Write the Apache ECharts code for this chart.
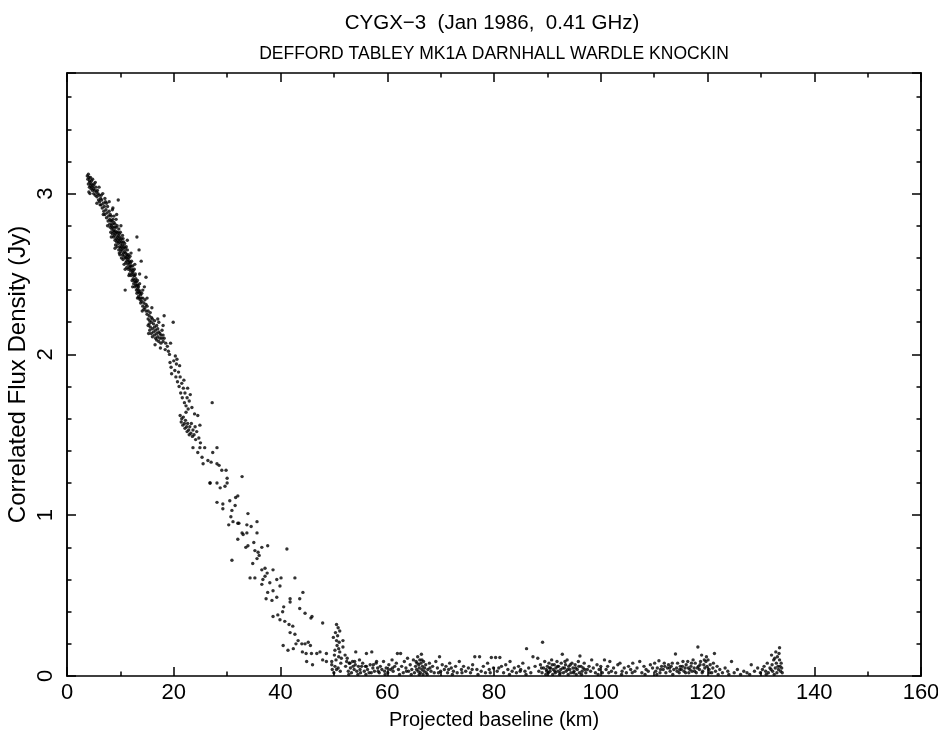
<!DOCTYPE html>
<html>
<head>
<meta charset="utf-8">
<script src="https://cdn.jsdelivr.net/npm/echarts@6/dist/echarts.min.js"></script>
<style>
html, body { margin: 0; padding: 0; background: #fff; }
#chart { width: 938px; height: 736px; }
</style>
</head>
<body>
<div id="chart"></div>
<script>
// [baseline km, flux Jy]
const headBand = [
  [3.8,3.11],[3.9,3.09],[4.0,3.12],[4.0,3.06],[4.1,3.10],[4.1,3.01],[4.2,3.08],[4.2,3.04],[4.3,3.07],[4.4,3.05],
  [4.4,3.10],[4.5,3.03],[4.6,3.06],[4.6,3.08],[4.7,3.04],[4.8,3.02],[4.9,3.05],[5.0,3.00],[5.0,3.03],[5.1,3.06],
  [5.2,3.02],[5.3,2.99],[5.4,3.04],[5.5,3.01],[5.6,2.98],[5.7,3.02],[5.8,3.00],[5.9,2.96],[6.0,2.99],[6.1,2.95],
  [6.2,2.93],[6.3,2.97],[6.4,2.93],[6.5,2.96],[6.6,2.91],[6.7,3.00],[6.8,2.94],[6.9,2.89],[7.0,2.92],[7.1,2.87],
  [7.2,2.95],[7.3,2.90],[7.4,2.85],[7.4,2.94],[7.5,2.88],[7.6,2.92],[7.7,2.83],[7.8,2.86],[7.9,2.89],[8.0,2.81],
  [8.0,2.84],[8.1,2.87],[8.1,2.79],[8.2,2.83],[8.2,2.76],[8.3,2.86],[8.3,2.80],[8.4,2.78],[8.4,2.83],[8.5,2.90],
  [8.5,2.81],[8.5,2.75],[8.6,2.79],[8.6,2.84],[8.7,2.77],[8.7,2.73],[8.8,2.82],[8.8,2.76],[8.8,2.86],[8.9,2.74],
  [8.9,2.79],[9.0,2.71],[9.0,2.77],[9.0,2.81],[9.1,2.75],[9.1,2.68],[9.2,2.79],[9.2,2.72],[9.2,2.84],[9.3,2.70],
  [9.3,2.76],[9.4,2.73],[9.4,2.67],[9.4,2.80],[9.5,2.71],[9.5,2.76],[9.6,2.96],[9.6,2.69],[9.6,2.74],[9.7,2.65],
  [9.7,2.72],[9.7,2.78],[9.8,2.70],[9.8,2.75],[9.9,2.67],[9.9,2.62],[9.9,2.73],[10.0,2.71],[10.0,2.66],[10.0,2.76],
  [10.1,2.64],[10.1,2.69],[10.2,2.72],[10.2,2.60],[10.2,2.67],[10.3,2.65],[10.3,2.70],[10.4,2.62],[10.4,2.68],[10.4,2.74],
  [10.5,2.66],[10.5,2.59],[10.6,2.70],[10.6,2.63],[10.7,2.61],[10.7,2.67],[10.7,2.56],[10.8,2.64],[10.8,2.69],[10.9,2.40],
  [10.9,2.60],[10.9,2.66],[11.0,2.63],[11.0,2.57],[11.1,2.67],[11.1,2.60],[11.2,2.58],[11.2,2.62],[11.2,2.54],[11.3,2.61],
  [11.3,2.65],[11.4,2.56],[11.4,2.59],[11.5,2.62],[11.5,2.53],[11.6,2.57],[11.6,2.60],[11.7,2.54],[11.7,2.50],[11.7,2.58],
  [11.8,2.55],[11.8,2.61],[11.9,2.52],[11.9,2.57],[12.0,2.55],[12.0,2.49]
];

// looser points either side of the main band
const headScatter = [
  [4.3,3.00],[4.8,3.09],[5.3,3.07],[5.6,2.94],[6.0,3.04],[6.4,2.99],[6.8,2.87],[7.1,2.97],[7.6,2.80],[7.9,2.95],
  [8.3,2.73],[8.6,2.91],[9.0,2.66],[9.3,2.87],[9.8,2.63],[10.1,2.80],[10.5,2.72],[10.9,2.53],[11.3,2.71],[11.6,2.49],
  [12.0,2.63],[12.3,2.42],[12.7,2.56],[13.2,2.35],[13.6,2.50],[14.1,2.27],[14.5,2.42],[15.0,2.35],[15.3,2.13],[15.9,2.29],
  [16.5,2.06],[17.0,2.22],[17.5,2.04],[18.0,2.18],[18.4,2.03],[19.4,2.07],[20.6,1.97],[21.1,1.93],[22.6,1.79],[23.1,1.75]
];

const upperBand = [
  [12.1,2.53],[12.1,2.58],[12.2,2.50],[12.2,2.46],[12.3,2.55],[12.3,2.51],[12.4,2.47],[12.4,2.52],[12.5,2.49],[12.5,2.44],
  [12.6,2.53],[12.6,2.46],[12.7,2.42],[12.7,2.49],[12.8,2.45],[12.8,2.50],[12.9,2.43],[12.9,2.47],[13.0,2.40],[13.0,2.45],
  [13.1,2.73],[13.1,2.43],[13.1,2.38],[13.2,2.46],[13.2,2.41],[13.3,2.39],[13.3,2.43],[13.4,2.36],[13.4,2.42],[13.5,2.65],
  [13.5,2.40],[13.5,2.35],[13.6,2.38],[13.6,2.44],[13.7,2.34],[13.7,2.39],[13.8,2.37],[13.8,2.32],[13.9,2.58],[13.9,2.35],
  [14.0,2.33],[14.0,2.38],[14.2,2.30],[14.2,2.35],[14.2,2.40],[14.4,2.32],[14.4,2.28],[14.6,2.34],[14.6,2.29],[14.8,2.48],
  [14.8,2.27],[14.8,2.31],[15.0,2.25],[15.0,2.30],[15.2,2.22],[15.2,2.27],[15.2,2.18],[15.4,2.24],[15.4,2.19],[15.5,2.15],
  [15.5,2.21],[15.6,2.26],[15.6,2.17],[15.8,2.20],[15.8,2.13],[15.8,2.23],[16.0,2.16],[16.0,2.22],[16.0,2.11],[16.2,2.19],
  [16.2,2.14],[16.4,2.12],[16.4,2.17],[16.4,2.21],[16.6,2.15],[16.6,2.10],[16.8,2.18],[16.8,2.13],[16.8,2.09],[17.0,2.11],
  [17.0,2.16],[17.2,2.14],[17.2,2.08],[17.2,2.20],[17.4,2.10],[17.4,2.13],[17.6,2.07],[17.6,2.12],[17.8,2.10],[17.8,2.15],
  [18.0,2.08],[18.0,2.12],[18.2,2.24],[18.2,2.10],[18.5,2.07]
];

const kneeUpper = [
  [18.8,2.05],[19.0,2.02],[19.2,2.00],[19.3,1.95],[19.5,1.92],[19.6,1.88],[19.9,2.20],[20.0,1.96],[20.2,1.90],[20.3,1.99],
  [20.4,1.86],[20.5,1.94],[20.7,1.83],[20.9,1.89],[21.0,1.80],[21.2,1.86],[21.3,1.76],[21.5,1.82],[21.6,1.73],[21.8,1.79],
  [21.9,1.84],[22.0,1.70],[22.1,1.76],[22.3,1.68],[22.5,1.73],[22.7,1.66],[22.9,1.71],[23.4,1.67],
  [21.2,1.62],[21.4,1.58],[21.5,1.60],[21.7,1.56],[21.8,1.61],[22.0,1.57],[22.1,1.54],[22.2,1.59],[22.3,1.64],[22.4,1.55],
  [22.5,1.52],[22.6,1.57],[22.8,1.53],[22.9,1.50],[23.0,1.55],[23.2,1.51],[23.3,1.57],[23.5,1.49],[23.6,1.53],[23.8,1.50],
  [23.9,1.63],[24.0,1.55],[24.1,1.47],[24.3,1.52],[24.5,1.62],[24.7,1.48],[24.9,1.56],[25.0,1.45],
  [23.6,1.42],[24.9,1.42],[25.8,1.42],[28.1,1.42],[24.5,1.39],[27.3,1.39],[25.3,1.36],[26.4,1.34],[27.0,1.33],[25.5,1.32],
  [28.1,1.32],[28.5,1.31],[29.0,1.28],[29.8,1.28],[26.8,1.20],[30.0,1.23],[32.8,1.24],[27.2,1.70]
];

const slopeMid = [
  [26.8,1.20],[28.1,1.20],[28.7,1.17],[29.6,1.18],[30.0,1.20],[28.1,1.08],[29.2,1.07],[30.5,1.09],[31.6,1.11],[32.0,1.12],
  [31.5,1.06],[29.2,1.04],[30.9,1.03],[30.7,0.99],[33.9,1.01],[31.1,0.96],[32.0,0.95],[30.3,0.94],[32.2,0.95],[33.7,0.94],
  [35.6,0.96],[34.5,0.93],[35.6,0.89],[33.7,0.89],[32.8,0.89],[32.0,0.85],[30.9,0.72],[33.0,0.88],[33.9,0.81],[33.5,0.80],
  [35.0,0.83],[35.2,0.78],[35.8,0.77],[36.5,0.80],[37.6,0.81],[36.0,0.75],[35.6,0.73],[34.8,0.70],[36.5,0.66],[37.1,0.67],
  [38.6,0.66],[37.5,0.64],[37.1,0.62],[41.2,0.79],[34.3,0.61],[35.2,0.61],[36.5,0.57],[38.0,0.58],[39.3,0.60],[40.1,0.61],
  [36.7,0.60],[37.6,0.52],[38.6,0.53],[39.9,0.56],[42.7,0.61]
];

const slopeLow = [
  [37.3,0.48],[38.4,0.47],[39.3,0.49],[41.8,0.48],[40.6,0.43],[41.8,0.46],[44.2,0.52],[43.6,0.48],[40.4,0.40],[38.6,0.37],
  [39.5,0.38],[39.9,0.35],[40.8,0.34],[41.6,0.32],[42.3,0.31],[41.8,0.27],[42.7,0.26],[43.6,0.42],[44.6,0.39],[45.9,0.37],
  [45.7,0.36]
];

const kneeFoot = [
  [47.9,0.33],[50.5,0.32],[50.8,0.30],[51.1,0.28],[49.9,0.24],[50.5,0.22],[51.7,0.22],[51.7,0.18],[50.2,0.16],[51.1,0.15],
  [52.1,0.13],[40.5,0.19],[41.4,0.16],[42.4,0.17],[42.9,0.20],[43.3,0.22],[44.0,0.20],[44.6,0.20],[45.2,0.21],[45.6,0.19],
  [44.1,0.15],[44.8,0.14],[45.8,0.14],[46.8,0.14],[47.4,0.15],[48.6,0.14],[44.9,0.09],[46.0,0.07],[47.9,0.10],[48.6,0.09],
  [49.6,0.09],[49.6,0.07],[50.2,0.06],[50.5,0.04],[50.0,0.02],[52.4,0.09],[53.0,0.08],[53.9,0.09],[54.1,0.15],[55.2,0.06],
  [56.1,0.06],[57.1,0.15],[57.4,0.07],[58.0,0.09],[58.3,0.03],[53.6,0.06],[54.9,0.04],
  [50.3,0.27],[50.6,0.19],[50.9,0.12],[51.0,0.21],[50.4,0.10],[50.7,0.25],[51.3,0.08],[50.1,0.13],[50.8,0.05],[51.4,0.11],
  [49.7,0.04],[50.9,0.17],[51.2,0.03]
];

const floorWest = [
  [52.2,0.06],[52.5,0.11],[52.7,0.03],[52.9,0.08],[53.1,0.05],[53.3,0.02],[53.5,0.09],[53.8,0.04],[54.0,0.07],[54.3,0.03],
  [54.6,0.06],[54.8,0.10],[55.0,0.02],[55.4,0.08],[55.7,0.03],[55.9,0.06],[56.1,0.14],[56.3,0.04],[56.6,0.02],[56.8,0.07],
  [57.3,0.05],[57.6,0.03],[57.9,0.08],[58.2,0.05],[58.5,0.02],[58.7,0.06],[59.0,0.04],[59.3,0.09],[59.5,0.03],[59.8,0.05],
  [60.1,0.02],[60.3,0.07],[60.6,0.04],[60.9,0.10],[61.1,0.03],[61.4,0.06],[61.7,0.08],[61.9,0.14],[62.1,0.04],[62.5,0.14],
  [62.7,0.06],[63.0,0.02],[63.2,0.09],[63.5,0.05],[63.8,0.11],[64.0,0.03],[64.3,0.07],[64.6,0.04],[64.9,0.10],[65.1,0.02],
  [65.3,0.06],[65.4,0.09],[65.5,0.04],[65.7,0.12],[65.8,0.03],[65.9,0.07],[66.0,0.05],[66.1,0.10],[66.2,0.02],[66.3,0.08],
  [66.4,0.135],[66.5,0.04],[66.6,0.06],[66.7,0.01],[66.8,0.09],[66.9,0.03],[67.0,0.05],[67.2,0.07],[67.3,0.02],[67.6,0.04],
  [67.9,0.08],[68.2,0.03],[68.5,0.06],[68.8,0.02],[69.1,0.09],[69.4,0.05],[69.8,0.12],[70.0,0.03],[70.3,0.07],[70.7,0.04],
  [71.0,0.06],[71.3,0.02],[71.7,0.08],[72.0,0.05],[72.4,0.03],[72.8,0.06],[73.1,0.02],[73.5,0.09],[73.9,0.04],[74.3,0.06],
  [74.7,0.03],[75.2,0.05],[75.6,0.02],[76.0,0.07],[76.4,0.12],[76.8,0.04],[77.3,0.12],[77.6,0.03],[78.0,0.06],[78.4,0.02],
  [78.8,0.08],[79.1,0.04],[79.5,0.115],[79.9,0.05],[80.3,0.115],[80.6,0.03],[81.1,0.115],[81.4,0.06],[81.8,0.02],[82.2,0.07],
  [82.6,0.04],[83.0,0.09],[83.4,0.03],[83.8,0.05],[84.2,0.02],[84.6,0.06],[85.0,0.04],[85.4,0.08],[85.8,0.03],[86.1,0.17],
  [86.5,0.05],[86.9,0.02],[87.3,0.12],[87.7,0.06],[88.2,0.11]
];

const floorEast = [
  [88.4,0.03],[88.7,0.07],[89.0,0.02],[89.1,0.21],[89.3,0.05],[89.5,0.09],[89.7,0.01],[89.8,0.04],[90.0,0.06],[90.2,0.02],
  [90.3,0.08],[90.5,0.03],[90.6,0.05],[90.8,0.10],[91.0,0.01],[91.1,0.04],[91.3,0.07],[91.5,0.02],[91.6,0.05],[91.8,0.09],
  [92.0,0.03],[92.1,0.06],[92.3,0.01],[92.5,0.04],[92.6,0.08],[92.8,0.135],[93.0,0.02],[93.2,0.05],[93.4,0.07],[93.5,0.03],
  [93.7,0.10],[93.9,0.01],[94.0,0.06],[94.2,0.04],[94.4,0.02],[94.6,0.08],[94.8,0.05],[95.0,0.03],[95.2,0.07],[95.4,0.01],
  [95.6,0.04],[95.8,0.09],[96.0,0.02],[96.1,0.124],[96.3,0.06],[96.5,0.03],[96.7,0.05],[96.9,0.08],[97.2,0.02],[97.5,0.04],
  [97.8,0.06],[98.1,0.03],[98.3,0.10],[98.6,0.05],[99.0,0.02],[99.3,0.07],[99.7,0.04],[100.0,0.06],[100.3,0.02],[100.7,0.10],
  [101.0,0.04],[101.3,0.06],[101.7,0.09],[102.0,0.03],[102.4,0.05],[102.8,0.02],[103.2,0.07],[103.6,0.08],[104.0,0.03],[104.4,0.05],
  [104.8,0.02],[105.2,0.06],[105.6,0.04],[106.0,0.08],[106.4,0.03],[106.8,0.05],[107.3,0.09],[107.7,0.02],[108.1,0.06],[108.5,0.04],
  [108.9,0.03],[109.3,0.07],[109.7,0.05],[110.1,0.08],[110.3,0.03],[110.6,0.05],[110.9,0.095],[111.1,0.02],[111.4,0.06],[111.7,0.04],
  [111.9,0.08],[112.2,0.02],[112.5,0.05],[112.7,0.07],[113.0,0.03],[113.2,0.06],[113.5,0.01],[113.7,0.04],[114.0,0.137],[114.2,0.05],
  [114.4,0.08],[114.7,0.02],[114.9,0.06],[115.1,0.04],[115.4,0.09],[115.6,0.03],[115.8,0.05],[116.0,0.07],[116.3,0.09],[116.5,0.02],
  [116.7,0.04],[116.9,0.06],[117.1,0.03],[117.3,0.10],[117.5,0.05],[117.7,0.08],[117.9,0.02],[118.2,0.18],[118.3,0.06],[118.5,0.04],
  [118.7,0.09],[118.9,0.13],[119.1,0.03],[119.3,0.07],[119.5,0.05],[119.7,0.09],[119.8,0.12],[120.1,0.10],[120.3,0.04],[120.5,0.07],
  [120.8,0.02],[121.0,0.05],[121.3,0.14],[121.5,0.03],[121.8,0.06],[122.3,0.04],[122.8,0.02],[123.3,0.05],[123.8,0.03],[124.5,0.09],
  [125.0,0.02],[125.6,0.04],[126.2,0.01],[126.8,0.03],[127.4,0.02],[128.2,0.07],[128.8,0.03],[129.4,0.05],[129.9,0.02],[130.3,0.04],
  [130.6,0.06],[130.9,0.03],[131.2,0.08],[131.4,0.02],[131.7,0.05],[132.0,0.13],[132.1,0.07],[132.2,0.03],[132.4,0.10],[132.6,0.11],
  [132.7,0.05],[132.9,0.08],[133.0,0.02],[133.1,0.12],[133.3,0.04],[133.5,0.176],[133.5,0.10],[133.6,0.06],[133.7,0.03],[133.8,0.08],
  [133.9,0.05],[134.0,0.02]
];

// extra floor points in the denser stretches
const floorExtra = [
  [52.8,0.01],[54.5,0.01],[56.0,0.01],[57.0,0.02],[59.6,0.01],[61.0,0.05],[62.3,0.01],[63.6,0.03],[64.5,0.01],[65.6,0.08],
  [66.0,0.01],[66.5,0.10],[67.5,0.01],[68.0,0.05],[69.6,0.02],[71.5,0.04],[72.2,0.01],[74.0,0.02],[75.9,0.04],[77.0,0.01],
  [79.3,0.02],[80.9,0.05],[82.9,0.01],[84.9,0.03],[86.0,0.01],[88.9,0.05],[89.9,0.03],[90.4,0.05],[90.9,0.07],[91.4,0.03],
  [91.9,0.06],[92.4,0.02],[92.9,0.05],[93.3,0.09],[93.8,0.04],[94.3,0.07],[94.9,0.02],[95.3,0.05],[95.9,0.06],[96.4,0.01],
  [97.0,0.04],[99.5,0.01],[101.5,0.02],[103.9,0.01],[105.9,0.02],[108.3,0.01],[110.5,0.01],[111.2,0.04],[112.0,0.06],[112.9,0.05],
  [113.4,0.08],[114.3,0.03],[114.8,0.04],[115.3,0.06],[115.9,0.02],[116.4,0.05],[117.0,0.08],[117.6,0.03],[118.1,0.05],[118.6,0.07],
  [119.0,0.02],[119.4,0.10],[119.9,0.06],[120.4,0.02],[121.1,0.08],[122.0,0.01],[124.0,0.01],[127.9,0.01],[131.0,0.01],[131.9,0.04],
  [132.5,0.01],[133.2,0.06],[133.4,0.14],[132.8,0.15]
];

const xTicks = { min: 0, max: 160, step: 20 };
const yTicks = { min: 0, max: 3.75, step: 1, minorStep: 0.2 };

const points = [].concat(headBand, headScatter, upperBand, kneeUpper, slopeMid, slopeLow,
  kneeFoot, floorWest, floorEast, floorExtra);

const FONT = '"Liberation Sans", Arial, sans-serif';
const ink = '#000';

function frameAxis(position, min, max, step, tickLen, extra) {
  return Object.assign({
    type: 'value',
    position: position,
    min: min,
    max: max,
    interval: step,
    axisLine: { show: true, onZero: false, lineStyle: { color: ink, width: 1.5 } },
    axisTick: { show: true, inside: true, length: tickLen, lineStyle: { color: ink, width: 1.5 } },
    axisLabel: { show: false },
    splitLine: { show: false }
  }, extra || {});
}

const minorX = { show: true, splitNumber: 2, length: 4.5, lineStyle: { color: ink, width: 1.5 } };

const chart = echarts.init(document.getElementById('chart'));
chart.setOption({
  animation: false,
  backgroundColor: '#fff',
  title: [
    { text: 'CYGX\u22123  (Jan 1986,  0.41 GHz)', left: 487, top: 8, textAlign: 'center',
      textStyle: { fontFamily: FONT, fontSize: 20.5, fontWeight: 'normal', color: ink } },
    { text: 'DEFFORD TABLEY MK1A DARNHALL WARDLE KNOCKIN', left: 489, top: 40, textAlign: 'center',
      textStyle: { fontFamily: FONT, fontSize: 17.5, fontWeight: 'normal', color: ink } }
  ],
  grid: { left: 67, right: 17, top: 73, bottom: 60, outerBoundsMode: 'none' },
  xAxis: [
    frameAxis('bottom', xTicks.min, xTicks.max, xTicks.step, 9, {
      minorTick: minorX,
      axisLabel: { show: true, color: ink, fontFamily: FONT, fontSize: 22, margin: 6 },
      name: 'Projected baseline (km)', nameLocation: 'middle', nameGap: 34, nameMoveOverlap: false,
      nameTextStyle: { color: ink, fontFamily: FONT, fontSize: 20 }
    }),
    frameAxis('top', xTicks.min, xTicks.max, xTicks.step, 9, { minorTick: minorX })
  ],
  yAxis: [
    frameAxis('left', yTicks.min, yTicks.max, yTicks.step, 9, {
      axisLabel: { show: true, color: ink, fontFamily: FONT, fontSize: 22, rotate: 90, margin: 10,
        formatter: v => Number.isInteger(v) ? String(v) : '' },
      name: 'Correlated Flux Density (Jy)', nameLocation: 'middle', nameGap: 37, nameMoveOverlap: false,
      nameTextStyle: { color: ink, fontFamily: FONT, fontSize: 24 }
    }),
    frameAxis('left', yTicks.min, yTicks.max, yTicks.minorStep, 4.5),
    frameAxis('right', yTicks.min, yTicks.max, yTicks.step, 9),
    frameAxis('right', yTicks.min, yTicks.max, yTicks.minorStep, 4.5)
  ],
  series: [{
    type: 'scatter',
    xAxisIndex: 0,
    yAxisIndex: 0,
    symbol: 'circle',
    symbolSize: 3.4,
    itemStyle: { color: ink },
    data: points
  }]
});
</script>
</body>
</html>
